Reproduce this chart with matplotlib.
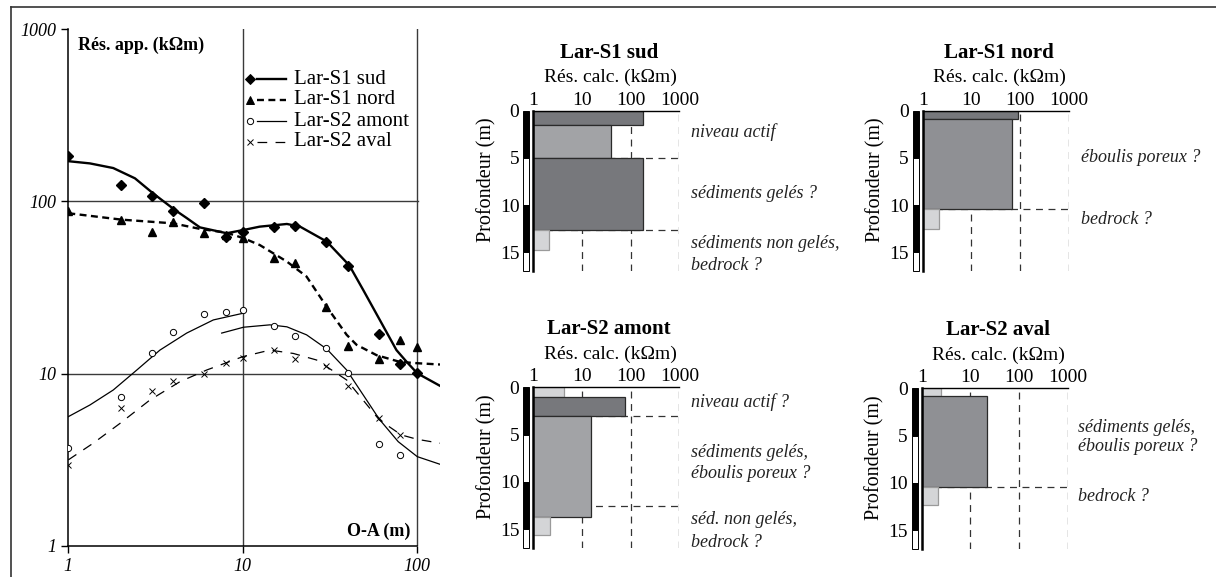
import matplotlib.pyplot as plt
from matplotlib.lines import Line2D
from matplotlib.patches import Rectangle

plt.rcParams['font.family'] = ['Liberation Serif', 'DejaVu Serif']
plt.rcParams['lines.scale_dashes'] = False

W, H = 1216, 577

# ---------- Sondages : résistivités apparentes mesurées (kOhm.m) en fonction de O-A (m)
oa = [1, 2, 3, 4, 6, 8, 10, 15, 20, 30, 40, 60, 80, 100]
s1_sud = [184, 124, 108, 88, 98, 62.4, 66.7, 70.8, 72, 58.4, 42.3, 17, 11.4, 10.05]
s1_nord = [87.6, 77.6, 66.4, 76, 65.3, 63.8, 61.1, 47.1, 44.1, 24.3, 14.5, 12.2, 15.6, 14.3]
oa_s2 = [1, 2, 3, 4, 6, 8, 10, 15, 20, 30, 40, 60, 80]
s2_amont = [3.72, 7.36, 13.2, 17.5, 22.1, 22.9, 23.4, 18.9, 16.6, 14.0, 10.1, 3.9, 3.37]
s2_aval = [2.95, 6.35, 7.9, 9.07, 9.9, 11.5, 12.4, 13.7, 12.1, 11.1, 8.5, 5.5, 4.4]

# courbes des modèles
c_sud_x = [1, 1.33, 1.81, 2.41, 3.07, 4.09, 4.77, 5.68, 8.08, 10.1, 12.5, 17.9, 21.3, 30.3, 40.8, 49, 61, 76, 87, 100, 135]
c_sud_y = [171, 166, 156, 136, 111, 89, 80, 70.6, 65.3, 68.2, 71.3, 73.9, 71.3, 58.4, 42.5, 30.6, 20.5, 13.7, 11.7, 10.05, 8.5]
c_nord_x = [1, 2.02, 4.0, 5.68, 8.08, 10.1, 12.5, 17.9, 23.2, 30.3, 39.4, 44.9, 58.5, 79.6, 100, 135]
c_nord_y = [85.3, 78.3, 74.5, 69.2, 65.8, 61.1, 55.8, 44.7, 36.6, 24.4, 16.8, 14.7, 12.8, 11.7, 11.5, 11.3]
c_amont1_x = [1, 1.33, 1.81, 2.47, 3.35, 4.77, 6.78, 10]
c_amont1_y = [5.63, 6.58, 8.04, 10.5, 13.7, 17.2, 20.5, 22.4]
c_amont2_x = [7.57, 10.1, 14.3, 17.9, 23.2, 30.3, 39.4, 60.6, 77.8, 100, 135]
c_amont2_y = [17.2, 18.6, 19.2, 18.7, 16.8, 13.9, 10.5, 5.44, 4.03, 3.3, 2.98]
c_aval_x = [1, 1.39, 1.98, 2.94, 4.37, 6.21, 10, 14.3, 19.5, 26.5, 39.4, 60.6, 81, 100, 135]
c_aval_y = [3.16, 3.95, 5.15, 7.04, 8.99, 10.5, 12.55, 13.7, 13.1, 12.0, 9.19, 5.39, 4.41, 4.16, 3.95]

# ---------- Modèles 1D : limites des couches (m), résistivités calculées (kOhm.m)
prof_ticks = [0, 5, 10, 15]
res_ticks = [1, 10, 100, 1000]
bande = [0, 5, 10, 15, 17]

sud_lim = [0, 1.5, 5.0, 12.65, 14.7]
sud_res = [181, 40, 176, 2.13]
sud_ton = ['fonce', 'moyen', 'fonce', 'clair']
sud_tirets = [5.0, 12.65]
sud_txt = ['niveau actif', 'sédiments gelés ?', 'sédiments non gelés,', 'bedrock ?']
sud_txt_prof = [2.3, 8.8, 14.0, 16.35]

nord_lim = [0, 0.88, 10.45, 12.5]
nord_res = [89, 70, 2.2]
nord_ton = ['fonce', 'moyen2', 'clair']
nord_tirets = [10.45]
nord_txt = ['éboulis poreux ?', 'bedrock ?']
nord_txt_prof = [4.9, 11.5]

amont_lim = [0, 1.0, 3.07, 13.7, 15.65]
amont_res = [4.27, 77.5, 15.1, 2.2]
amont_ton = ['clair', 'fonce', 'moyen', 'clair']
amont_tirets = [3.07, 12.6]
amont_txt = ['niveau actif ?', 'sédiments gelés,', 'éboulis poreux ?', 'séd. non gelés,', 'bedrock ?']
amont_txt_prof = [1.57, 6.95, 9.15, 14.0, 16.4]

aval_lim = [0, 0.8, 10.4, 12.4]
aval_res = [2.46, 21.6, 2.2]
aval_ton = ['clair', 'moyen2', 'clair']
aval_tirets = [10.4]
aval_txt = ['sédiments gelés,', 'éboulis poreux ?', 'bedrock ?']
aval_txt_prof = [4.1, 6.2, 11.4]

couleurs = {'fonce': '#77787c', 'moyen': '#a2a3a6', 'moyen2': '#8f9094', 'clair': '#d4d5d7'}
bords = {'fonce': '#2a2a2a', 'moyen': '#2a2a2a', 'moyen2': '#2a2a2a', 'clair': '#9a9a9a'}


def axes_px(left, top, right, bottom):
    return fig.add_axes([left / W, 1 - bottom / H, (right - left) / W, (bottom - top) / H])


fig = plt.figure(figsize=(W / 100, H / 100), dpi=100)

# cadre
fig.add_artist(Line2D([11 / W, 1], [1 - 7 / H, 1 - 7 / H], color='#333333', lw=1.2))
fig.add_artist(Line2D([11 / W, 11 / W], [0, 1 - 7 / H], color='#333333', lw=1.2))

# ---------- Graphique de gauche
ax = axes_px(68.3, 29, 440, 546)
ax.set_xscale('log')
ax.set_yscale('log')
ax.set_xlim(1, 135)
ax.set_ylim(1, 1000)
ax.minorticks_off()
for s in ['top', 'right']:
    ax.spines[s].set_visible(False)
ax.spines['bottom'].set_bounds(1, 100)
ax.spines['left'].set_linewidth(1.1)
ax.spines['bottom'].set_linewidth(1.1)
ax.set_xticks([1, 10, 100], labels=['1', '10', '100'])
ax.set_yticks([1, 10, 100, 1000], labels=['1', '10', '100', '1000'])
ax.tick_params(length=5, width=1, pad=3.5, labelsize=13)
for t in ax.get_xticklabels() + ax.get_yticklabels():
    t.set_fontstyle('italic')
for v in [10, 100]:
    ax.axvline(v, color='#3a3a3a', lw=1, zorder=1)
    ax.axhline(v, xmax=(440 - 22.3 - 68.3) / 371.7, color='#3a3a3a', lw=1, zorder=1)

ax.plot(c_sud_x, c_sud_y, color='black', lw=1.7, zorder=3)
ax.plot(c_nord_x, c_nord_y, color='black', lw=1.7, dashes=(5, 3.2), zorder=3)
ax.plot(c_amont1_x, c_amont1_y, color='black', lw=0.9, zorder=3)
ax.plot(c_amont2_x, c_amont2_y, color='black', lw=0.9, zorder=3)
ax.plot(c_aval_x, c_aval_y, color='black', lw=0.9, dashes=(7, 6), zorder=3)

ax.plot(oa, s1_sud, 'D', color='black', ms=4.8, ls='none', zorder=4)
ax.plot(oa, s1_nord, '^', color='black', ms=5.5, ls='none', zorder=4)
ax.plot(oa_s2, s2_amont, 'o', mfc='white', mec='black', mew=0.7, ms=4.5, ls='none', zorder=4)
ax.plot(oa_s2, s2_aval, 'x', color='black', mew=0.7, ms=5, ls='none', zorder=4)

ax.text((77.7 - 68.3) / 371.7, (546 - 45) / 517, 'Rés. app. (kΩm)', transform=ax.transAxes,
        fontsize=13, fontweight='bold', va='center', ha='left')
ax.text((410.7 - 68.3) / 371.7, (546 - 531.7) / 517, 'O-A (m)', transform=ax.transAxes,
        fontsize=13, fontweight='bold', va='center', ha='right')

# légende
leg = [('Lar-S1 sud', 'D', 4.8, 1.7, None, 'black'),
       ('Lar-S1 nord', '^', 5.5, 1.7, (5, 3.2), 'black'),
       ('Lar-S2 amont', 'o', 4.5, 0.9, None, 'white'),
       ('Lar-S2 aval', 'x', 5, 0.9, (7, 6), 'black')]
fxa = lambda px: (px - 68.3) / 371.7
fya = lambda py: (546 - py) / 517
for i, (nom, mk, ms, lw, ds, fc) in enumerate(leg):
    yy = fya(79 + 21 * i)
    ax.plot([fxa(250)], [yy], mk, ms=ms, mfc=fc, mec='black', mew=0.7, color='black',
            transform=ax.transAxes, clip_on=False)
    kw = {'dashes': ds} if ds else {}
    ax.plot([fxa(257), fxa(286)], [yy, yy], color='black', lw=lw, transform=ax.transAxes,
            clip_on=False, **kw)
    ax.text(fxa(294), yy, nom, transform=ax.transAxes, fontsize=15, va='center', ha='left')


# ---------- Modèles
def modele(left, top, titre, lim, res, ton, tirets, txt, txt_prof, x_txt):
    echelle = 9.45
    bas = top + 17 * echelle
    right = left + 146
    a = axes_px(left, top, right, bas)
    a.set_xscale('log')
    a.set_xlim(1, 1000)
    a.set_ylim(17, 0)
    a.minorticks_off()
    a.xaxis.tick_top()
    a.set_xticks(res_ticks, labels=[str(v) for v in res_ticks])
    a.set_yticks(prof_ticks, labels=[str(v) for v in prof_ticks])
    a.tick_params(axis='x', length=0, pad=1.5, labelsize=14)
    a.tick_params(axis='y', length=0, pad=10, labelsize=14)
    for s in ['bottom', 'right']:
        a.spines[s].set_visible(False)
    a.spines['top'].set_linewidth(1)
    a.spines['left'].set_linewidth(1.8)
    a.patch.set_alpha(0)
    for v in res_ticks[1:]:
        a.axvline(v, color='#333333', lw=0.9, dashes=(5, 4), zorder=1)
    for d in tirets:
        a.axhline(d, color='#333333', lw=0.9, dashes=(5, 4), zorder=1)
    for i in range(len(res)):
        a.barh(lim[i], res[i] - 1, left=1, height=lim[i + 1] - lim[i], align='edge',
               color=couleurs[ton[i]], edgecolor=bords[ton[i]], lw=0.9, zorder=2)
    tr = a.get_yaxis_transform()
    for j in range(len(bande) - 1):
        fc = 'black' if j % 2 == 0 else 'white'
        a.add_patch(Rectangle((-10 / 146, bande[j]), 6 / 146, bande[j + 1] - bande[j],
                              transform=tr, facecolor=fc, edgecolor='black', lw=0.7,
                              clip_on=False))
    for s, d in zip(txt, txt_prof):
        a.text(x_txt, d, s, transform=tr, fontsize=13, style='italic', va='center',
               ha='left', color='#222222', clip_on=False)
    cx = (left + right) / 2 + 3
    fig.text(cx / W, 1 - (top - 58) / H, titre, fontsize=15, fontweight='bold',
             ha='center', va='center')
    fig.text((cx + 1) / W, 1 - (top - 33) / H, 'Rés. calc. (kΩm)', fontsize=14,
             ha='center', va='center')
    fig.text((left - 47) / W, 1 - (top + 7.3 * echelle) / H, 'Profondeur (m)', fontsize=14.5,
             rotation=90, ha='center', va='center')


modele(533.3, 110.7, 'Lar-S1 sud', sud_lim, sud_res, sud_ton, sud_tirets, sud_txt, sud_txt_prof, 1.078)
modele(922.7, 110.7, 'Lar-S1 nord', nord_lim, nord_res, nord_ton, nord_tirets, nord_txt, nord_txt_prof, 1.085)
modele(533.3, 387.3, 'Lar-S2 amont', amont_lim, amont_res, amont_ton, amont_tirets, amont_txt, amont_txt_prof, 1.078)
modele(921.7, 388.3, 'Lar-S2 aval', aval_lim, aval_res, aval_ton, aval_tirets, aval_txt, aval_txt_prof, 1.07)

fig.savefig('out.png', dpi=100)
